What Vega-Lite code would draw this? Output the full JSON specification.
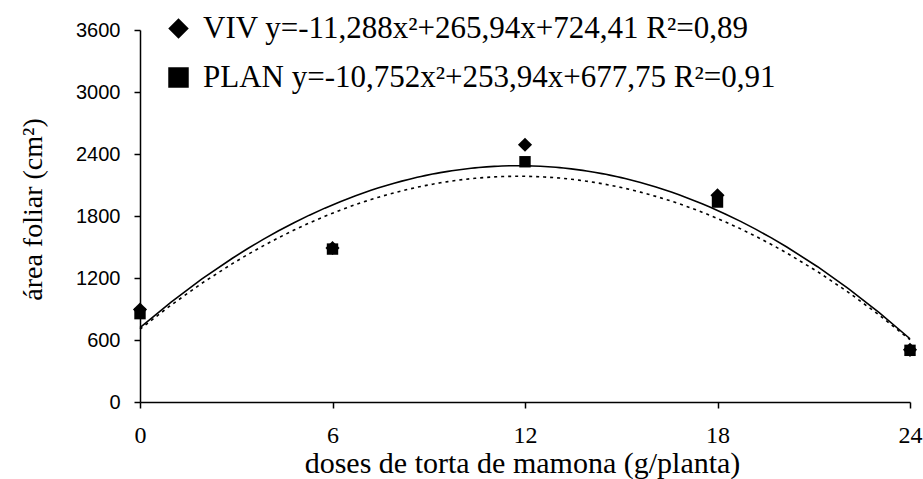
{
  "$schema": "https://vega.github.io/schema/vega-lite/v6.json",
  "width": 770,
  "height": 372,
  "autosize": "none",
  "padding": {"left": 140, "top": 30, "right": 13, "bottom": 77},
  "background": "white",
  "config": {"view": {"stroke": null}},
  "data": {
    "values": [
      {"series": "VIV y=-11,288x²+265,94x+724,41 R²=0,89", "dose": 0, "area": 895},
      {"series": "VIV y=-11,288x²+265,94x+724,41 R²=0,89", "dose": 6, "area": 1490},
      {"series": "VIV y=-11,288x²+265,94x+724,41 R²=0,89", "dose": 12, "area": 2490},
      {"series": "VIV y=-11,288x²+265,94x+724,41 R²=0,89", "dose": 18, "area": 2000},
      {"series": "VIV y=-11,288x²+265,94x+724,41 R²=0,89", "dose": 24, "area": 505},
      {"series": "PLAN y=-10,752x²+253,94x+677,75 R²=0,91", "dose": 0, "area": 855},
      {"series": "PLAN y=-10,752x²+253,94x+677,75 R²=0,91", "dose": 6, "area": 1480},
      {"series": "PLAN y=-10,752x²+253,94x+677,75 R²=0,91", "dose": 12, "area": 2325},
      {"series": "PLAN y=-10,752x²+253,94x+677,75 R²=0,91", "dose": 18, "area": 1935},
      {"series": "PLAN y=-10,752x²+253,94x+677,75 R²=0,91", "dose": 24, "area": 500}
    ]
  },
  "encoding": {
    "x": {
      "field": "dose", "type": "quantitative",
      "scale": {"domain": [0, 24], "nice": false, "zero": false},
      "axis": {
        "values": [0, 6, 12, 18, 24], "grid": false,
        "title": "doses de torta de mamona (g/planta)",
        "titleFont": "Liberation Serif", "titleFontSize": 30, "titleFontWeight": "normal", "titleColor": "black",
        "titleY": 70, "titleX": 382, "titleBaseline": "alphabetic",
        "labelFont": "Liberation Serif", "labelFontSize": 24, "labelColor": "black", "labelPadding": 15,
        "labelFlush": false,
        "domainColor": "black", "domainWidth": 1.5, "tickColor": "black", "tickWidth": 1.5, "tickSize": 6
      }
    },
    "y": {
      "field": "area", "type": "quantitative",
      "scale": {"domain": [0, 3600], "nice": false},
      "axis": {
        "values": [0, 600, 1200, 1800, 2400, 3000, 3600], "grid": false, "format": "d",
        "title": "área foliar (cm²)",
        "titleFont": "Liberation Serif", "titleFontSize": 28, "titleFontWeight": "normal", "titleColor": "black",
        "titleX": -107, "titleY": 179, "titleBaseline": "middle", "titleAngle": 270,
        "labelFont": "Liberation Sans", "labelFontSize": 20, "labelColor": "black", "labelPadding": 14,
        "labelFlush": false,
        "domainColor": "black", "domainWidth": 1.5, "tickColor": "black", "tickWidth": 1.5, "tickSize": 6
      }
    }
  },
  "layer": [
    {
      "transform": [
        {"filter": "indexof(datum.series, 'VIV') === 0"},
        {"regression": "area", "on": "dose", "method": "poly", "order": 2, "extent": [0, 24]}
      ],
      "mark": {"type": "line", "color": "black", "strokeWidth": 1.6},
      "encoding": {}
    },
    {
      "transform": [
        {"filter": "indexof(datum.series, 'PLAN') === 0"},
        {"regression": "area", "on": "dose", "method": "poly", "order": 2, "extent": [0, 24]}
      ],
      "mark": {"type": "line", "color": "black", "strokeWidth": 1.6, "strokeDash": [3, 4]},
      "encoding": {}
    },
    {
      "transform": [{"filter": "indexof(datum.series, 'VIV') === 0"}],
      "mark": {"type": "point", "filled": true, "color": "black", "opacity": 1, "size": 200},
      "encoding": {
        "shape": {
          "field": "series", "type": "nominal",
          "scale": {
            "domain": ["VIV y=-11,288x²+265,94x+724,41 R²=0,89", "PLAN y=-10,752x²+253,94x+677,75 R²=0,91"],
            "range": ["diamond", "square"]
          },
          "legend": {
            "title": null, "orient": "none", "legendX": 23, "legendY": -17,
            "direction": "vertical", "padding": 0,
            "labelFont": "Liberation Serif", "labelFontSize": 31, "labelColor": "black", "labelLimit": 800,
            "labelOffset": 9, "rowPadding": 17,
            "symbolSize": 420, "symbolFillColor": "black", "symbolStrokeColor": "black", "symbolStrokeWidth": 0,
            "symbolOpacity": 1
          }
        }
      }
    },
    {
      "transform": [{"filter": "indexof(datum.series, 'PLAN') === 0"}],
      "mark": {"type": "point", "filled": true, "color": "black", "opacity": 1, "size": 130},
      "encoding": {
        "shape": {
          "field": "series", "type": "nominal",
          "scale": {
            "domain": ["VIV y=-11,288x²+265,94x+724,41 R²=0,89", "PLAN y=-10,752x²+253,94x+677,75 R²=0,91"],
            "range": ["diamond", "square"]
          },
          "legend": {
            "title": null, "orient": "none", "legendX": 23, "legendY": -17,
            "direction": "vertical", "padding": 0,
            "labelFont": "Liberation Serif", "labelFontSize": 31, "labelColor": "black", "labelLimit": 800,
            "labelOffset": 9, "rowPadding": 17,
            "symbolSize": 420, "symbolFillColor": "black", "symbolStrokeColor": "black", "symbolStrokeWidth": 0,
            "symbolOpacity": 1
          }
        }
      }
    }
  ]
}
